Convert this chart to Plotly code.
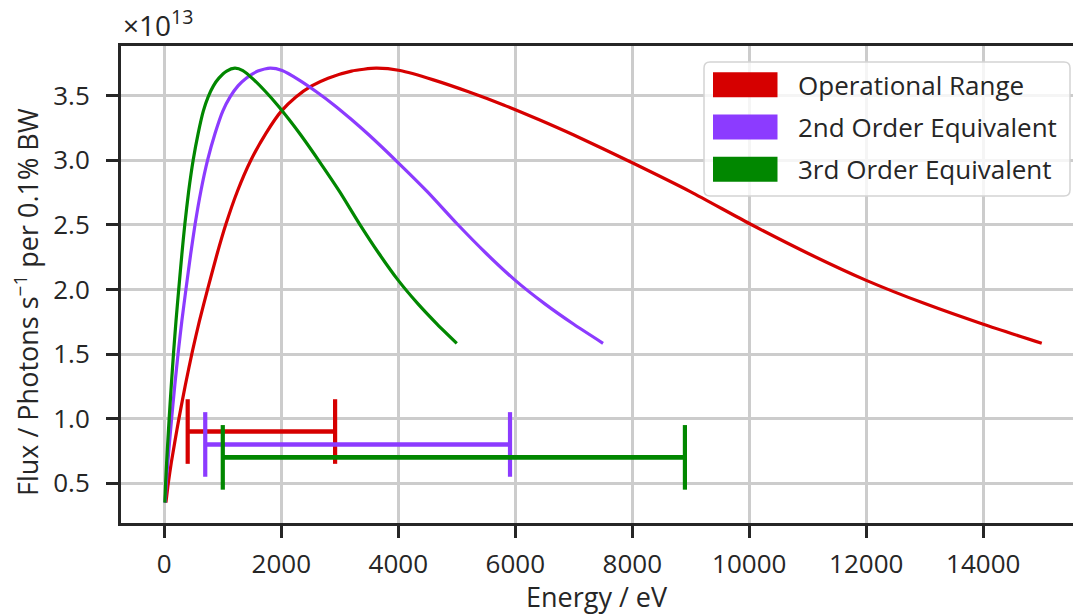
import plotly.graph_objects as go

# Flux curve of the fundamental (operational range), flux in units of 1e13 photons/s/0.1%BW
energy_ev = [28, 68, 120, 180, 250, 360, 480, 600, 740, 900, 1050, 1250, 1480, 1740,
             2000, 2250, 2520, 2800, 3200, 3620, 4030, 4600, 5200, 5800, 6400, 7000,
             8000, 9000, 10000, 11000, 12000, 13000, 14000, 15000]
flux_e13 = [0.35, 0.50, 0.66, 0.82, 1.00, 1.26, 1.52, 1.755, 2.00, 2.27, 2.50, 2.76,
            3.00, 3.21, 3.38, 3.49, 3.575, 3.635, 3.69, 3.712, 3.694, 3.622, 3.530,
            3.428, 3.315, 3.195, 2.98, 2.755, 2.51, 2.28, 2.07, 1.89, 1.73, 1.583]

series_names = ["Operational Range", "2nd Order Equivalent", "3rd Order Equivalent"]
harmonic_order = [1, 2, 3]

# Usable energy windows shown as bars under the curves
range_low_ev = [400, 700, 1000]
range_high_ev = [2920, 5910, 8900]
range_level_e13 = [0.9, 0.8, 0.7]

colors = ["#d60000", "#8c3bff", "#018700"]
CAP_HALF = 0.25
INK = "#262626"
FONT = "Open Sans"

W, H = 1073, 615
ML, MR, MT, MB = 121, 0, 46, 92
PW, PH = W - ML - MR, H - MT - MB


def px_x(px):
    return (px - ML) / PW


def px_y(py):
    return 1 - (py - MT) / PH


fig = go.Figure()

for name, color, order in zip(series_names, colors, harmonic_order):
    fig.add_trace(go.Scatter(
        x=[e / order for e in energy_ev], y=flux_e13, mode="lines", name=name,
        line=dict(color=color, width=3.2, shape="spline", smoothing=0.6),
        showlegend=False))

for lo, hi, lvl, color in zip(range_low_ev, range_high_ev, range_level_e13, colors):
    fig.add_trace(go.Scatter(
        x=[lo, hi], y=[lvl, lvl], mode="lines",
        line=dict(color=color, width=4.6), showlegend=False))
    fig.add_trace(go.Scatter(
        x=[lo, lo, None, hi, hi],
        y=[lvl - CAP_HALF, lvl + CAP_HALF, None, lvl - CAP_HALF, lvl + CAP_HALF],
        mode="lines", line=dict(color=color, width=4.2), showlegend=False))

shapes = []
annotations = []

# legend frame with rounded corners
x0, x1 = px_x(704), px_x(1070)
y0, y1 = px_y(196), px_y(62)
rx, ry = 6 / PW, 6 / PH
path = (f"M {x0+rx},{y0} L {x1-rx},{y0} Q {x1},{y0} {x1},{y0+ry} "
        f"L {x1},{y1-ry} Q {x1},{y1} {x1-rx},{y1} L {x0+rx},{y1} "
        f"Q {x0},{y1} {x0},{y1-ry} L {x0},{y0+ry} Q {x0},{y0} {x0+rx},{y0} Z")
shapes.append(dict(type="path", xref="paper", yref="paper", path=path,
                   fillcolor="rgba(255,255,255,0.8)",
                   line=dict(color="#d4d4d4", width=1.5), layer="above"))
for i, (name, color) in enumerate(zip(series_names, colors)):
    top = 72.3 + i * 42.2
    shapes.append(dict(type="rect", xref="paper", yref="paper",
                       x0=px_x(713), x1=px_x(777.5), y0=px_y(top + 25), y1=px_y(top),
                       fillcolor=color, line=dict(width=0), layer="above"))
    annotations.append(dict(x=px_x(796), y=px_y(top + 12.5), xref="paper", yref="paper",
                            text=name, showarrow=False, xanchor="left", yanchor="middle",
                            font=dict(family=FONT, size=26, color=INK)))

# axis offset label
annotations.append(dict(x=px_x(121), y=px_y(46), xref="paper", yref="paper",
                        text="×10<sup>13</sup>", showarrow=False,
                        xanchor="left", yanchor="bottom",
                        font=dict(family=FONT, size=28, color=INK)))
# axis titles
annotations.append(dict(x=px_x(26), y=px_y(302), xref="paper", yref="paper",
                        text="Flux / Photons s<sup>−1</sup> per 0.1% BW", showarrow=False,
                        textangle=-90, xanchor="center", yanchor="middle",
                        font=dict(family=FONT, size=27, color=INK)))
annotations.append(dict(x=px_x(597), y=px_y(596), xref="paper", yref="paper",
                        text="Energy / eV", showarrow=False,
                        xanchor="center", yanchor="middle",
                        font=dict(family=FONT, size=27, color=INK)))

fig.update_layout(
    width=W, height=H, margin=dict(l=ML, r=MR, t=MT, b=MB),
    paper_bgcolor="white", plot_bgcolor="white",
    shapes=shapes, annotations=annotations, showlegend=False,
    xaxis=dict(range=[-740, 15534], tickmode="array",
               tickvals=[0, 2000, 4000, 6000, 8000, 10000, 12000, 14000],
               ticktext=["0", "2000", "4000", "6000", "8000", "10000", "12000", "14000"],
               showgrid=True, gridcolor="#cccccc", gridwidth=2.5, zeroline=False,
               showline=True, linecolor=INK, linewidth=3, mirror=True,
               ticks="outside", ticklen=12, tickwidth=3, tickcolor=INK,
               ticklabelstandoff=4,
               tickfont=dict(family=FONT, size=26, color=INK)),
    yaxis=dict(range=[0.192, 3.884], tickmode="array",
               tickvals=[0.5, 1.0, 1.5, 2.0, 2.5, 3.0, 3.5],
               ticktext=["0.5", "1.0", "1.5", "2.0", "2.5", "3.0", "3.5"],
               showgrid=True, gridcolor="#cccccc", gridwidth=2.5, zeroline=False,
               showline=True, linecolor=INK, linewidth=3, mirror=False,
               ticks="outside", ticklen=12, tickwidth=3, tickcolor=INK,
               ticklabelstandoff=11,
               tickfont=dict(family=FONT, size=26, color=INK)),
)

fig.write_html("out.html")
